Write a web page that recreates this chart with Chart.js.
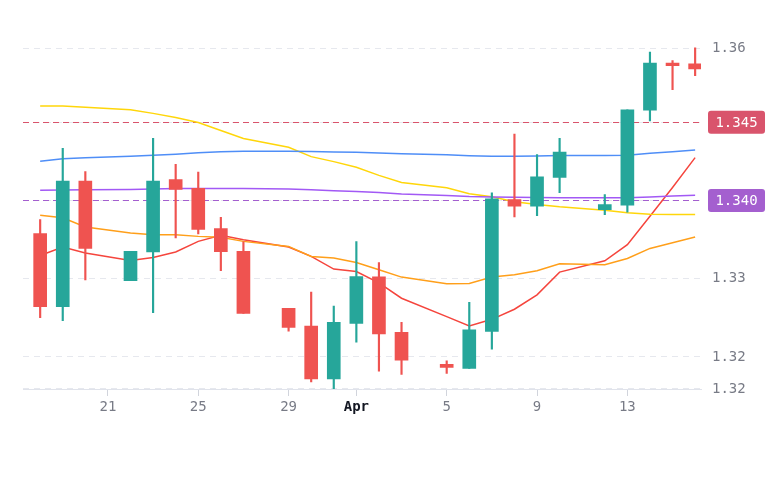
<!DOCTYPE html>
<html>
<head>
<meta charset="utf-8">
<script src="https://cdn.jsdelivr.net/npm/chart.js"></script>
<style>
html, body { margin: 0; padding: 0; background: #fff; }
#wrap { width: 770px; height: 489px; }
</style>
</head>
<body>
<div id="wrap"><canvas id="myChart"></canvas></div>
<script>
// trading days, as day offsets from Mar 18
var dateLabels = ['Mar 18','Mar 19','Mar 20','Mar 22','Mar 23','Mar 24','Mar 25','Mar 26','Mar 27','Mar 29','Mar 30','Mar 31',
                  'Apr 1','Apr 2','Apr 3','Apr 5','Apr 6','Apr 7','Apr 8','Apr 9','Apr 10','Apr 12','Apr 13','Apr 14','Apr 15','Apr 16'];
var dayIndex = [0,1,2,4,5,6,7,8,9,11,12,13,14,15,16,18,19,20,21,22,23,25,26,27,28,29];

var open  = [1.33576,1.32642,1.34248,1.32976,1.33341,1.34266,1.34154,1.33640,1.33349,1.32622,1.32394,1.31717,1.32429,
             1.33024,1.32313,1.31906,1.31851,1.32326,1.34013,1.33927,1.34295,1.33884,1.33940,1.35156,1.35756,1.35747];
var high  = [1.33756,1.34668,1.34369,1.33349,1.34796,1.34462,1.34364,1.33785,1.33470,1.32622,1.32827,1.32651,1.33473,
             1.33207,1.32442,1.31949,1.32699,1.34099,1.34848,1.34587,1.34796,1.34077,1.35160,1.35897,1.35789,1.35952];
var low   = [1.32501,1.32462,1.32985,1.32976,1.32565,1.33521,1.33572,1.33101,1.32557,1.32330,1.31679,1.31594,1.32189,
             1.31816,1.31774,1.31787,1.31851,1.32099,1.33791,1.33807,1.34099,1.33820,1.33850,1.35019,1.35417,1.35597];
var close = [1.32642,1.34248,1.33387,1.33349,1.34248,1.34141,1.33631,1.33345,1.32557,1.32378,1.31717,1.32442,1.33028,
             1.32292,1.31958,1.31864,1.32347,1.34022,1.33927,1.34304,1.34620,1.33949,1.35160,1.35756,1.35725,1.35683];

var maBlue   = [1.34501,1.34533,1.34546,1.34565,1.34578,1.34591,1.34610,1.34623,1.34629,1.34629,1.34626,1.34620,1.34617,
                1.34608,1.34597,1.34584,1.34572,1.34565,1.34565,1.34569,1.34574,1.34574,1.34578,1.34604,1.34623,1.34646];
var maPurple = [1.34132,1.34135,1.34137,1.34141,1.34148,1.34154,1.34154,1.34154,1.34154,1.34148,1.34137,1.34125,1.34116,
                1.34103,1.34083,1.34064,1.34051,1.34045,1.34041,1.34039,1.34036,1.34035,1.34036,1.34045,1.34057,1.34068];
var maYellow = [1.35207,1.35207,1.35192,1.35160,1.35114,1.35062,1.34998,1.34895,1.34793,1.34681,1.34561,1.34497,1.34424,
                1.34321,1.34231,1.34163,1.34086,1.34048,1.33983,1.33949,1.33919,1.33875,1.33842,1.33824,1.33820,1.33820];
var maOrange = [1.33811,1.33778,1.33662,1.33585,1.33563,1.33563,1.33541,1.33529,1.33477,1.33413,1.33285,1.33264,1.33207,
                1.33114,1.33020,1.32934,1.32938,1.33020,1.33050,1.33101,1.33191,1.33178,1.33259,1.33387,1.33460,1.33534];
var maRed    = [1.33297,1.33405,1.33328,1.33233,1.33272,1.33341,1.33477,1.33554,1.33499,1.33405,1.33285,1.33123,1.33092,
                1.32947,1.32750,1.32514,1.32394,1.32480,1.32609,1.32793,1.33084,1.33229,1.33435,1.33798,1.34167,1.34548];

var xTickDays   = [3, 7, 11, 14, 18, 22, 26];
var xTickLabels = ['21', '25', '29', 'Apr', '5', '9', '13'];
var yTickValues = [1.3159, 1.32, 1.33, 1.34, 1.35, 1.3595];
var yTickLabels = ['1.32', '1.32', '1.33', '', '', '1.36'];

var levelValues = [1.35, 1.34];
var levelLabels = ['1.345', '1.340'];
var levelColors = ['#d9546c', '#a45fcf'];

var UP = '#26a69a', DOWN = '#ef5350';
var MONO = "'DejaVu Sans Mono', monospace";

var candleColors = open.map(function (o, i) { return close[i] >= o ? UP : DOWN; });
var pts = function (arr) { return arr.map(function (v, i) { return { x: dayIndex[i], y: v }; }); };
var maLine = function (arr, color) {
    return { type: 'line', data: pts(arr), borderColor: color, borderWidth: 1.5,
             pointRadius: 0, tension: 0, fill: false, order: 5 };
};

var levels = {
    id: 'levels',
    beforeDatasetsDraw: function (chart) {
        var ctx = chart.ctx, a = chart.chartArea, y = chart.scales.y;
        ctx.save();
        ctx.lineWidth = 1.2;
        ctx.setLineDash([6, 4]);
        levelValues.forEach(function (v, i) {
            var py = Math.round(y.getPixelForValue(v)) + 0.5;
            ctx.strokeStyle = levelColors[i];
            ctx.beginPath();
            ctx.moveTo(a.left, py);
            ctx.lineTo(a.right, py);
            ctx.stroke();
        });
        ctx.restore();
    },
    afterDraw: function (chart) {
        var ctx = chart.ctx, a = chart.chartArea, y = chart.scales.y;
        ctx.save();
        levelValues.forEach(function (v, i) {
            var py = y.getPixelForValue(v);
            var x0 = a.right + 7, w = 57, h = 23;
            ctx.fillStyle = levelColors[i];
            ctx.beginPath();
            ctx.roundRect(x0, py - h / 2, w, h, 3);
            ctx.fill();
            ctx.fillStyle = '#ffffff';
            ctx.font = '14px ' + MONO;
            ctx.textAlign = 'center';
            ctx.textBaseline = 'middle';
            ctx.fillText(levelLabels[i], x0 + w / 2, py + 1);
        });
        ctx.restore();
    }
};

new Chart(document.getElementById('myChart'), {
    type: 'bar',
    data: {
        datasets: [
            { data: dayIndex.map(function (d, i) { return { x: d, y: [open[i], close[i]] }; }),
              backgroundColor: candleColors, barThickness: 13, grouped: false, order: 0 },
            { data: dayIndex.map(function (d, i) { return { x: d, y: [low[i], high[i]] }; }),
              backgroundColor: candleColors, barThickness: 1.5, grouped: false, order: 1 },
            maLine(maBlue, '#4f8ef7'),
            maLine(maPurple, '#a259f5'),
            maLine(maYellow, '#ffd60a'),
            maLine(maOrange, '#ff9f1a'),
            maLine(maRed, '#f5453d')
        ]
    },
    options: {
        responsive: true,
        maintainAspectRatio: false,
        animation: false,
        layout: { padding: { left: 23, top: 3, right: 0, bottom: 0 } },
        plugins: { legend: { display: false }, tooltip: { enabled: false } },
        scales: {
            x: {
                type: 'linear',
                offset: false,
                min: -0.76,
                max: 29.26,
                afterBuildTicks: function (axis) { axis.ticks = xTickDays.map(function (v) { return { value: v }; }); },
                afterFit: function (axis) { axis.height = 100; },
                ticks: {
                    autoSkip: false,
                    maxRotation: 0,
                    padding: 3,
                    callback: function (v) { return xTickLabels[xTickDays.indexOf(v)]; },
                    font: function (c) {
                        return { family: MONO, size: 14, weight: c.tick && c.tick.value === 14 ? 'bold' : 'normal' };
                    },
                    color: function (c) { return c.tick && c.tick.value === 14 ? '#131722' : '#787b86'; }
                },
                grid: { offset: false, drawOnChartArea: false, drawTicks: true, tickLength: 7, color: '#d1d4dc' },
                border: { display: true, color: '#e0e3eb' }
            },
            y: {
                position: 'right',
                min: 1.31589,
                max: 1.36316,
                afterBuildTicks: function (axis) { axis.ticks = yTickValues.map(function (v) { return { value: v }; }); },
                afterFit: function (axis) { axis.width = 69; },
                ticks: {
                    padding: 11,
                    callback: function (v) { return yTickLabels[yTickValues.indexOf(v)]; },
                    font: { family: MONO, size: 14 },
                    color: '#787b86'
                },
                grid: { drawTicks: false, color: '#e6e8ee' },
                border: { display: false, dash: [6, 5] }
            }
        }
    },
    plugins: [levels]
});
</script>
</body>
</html>
